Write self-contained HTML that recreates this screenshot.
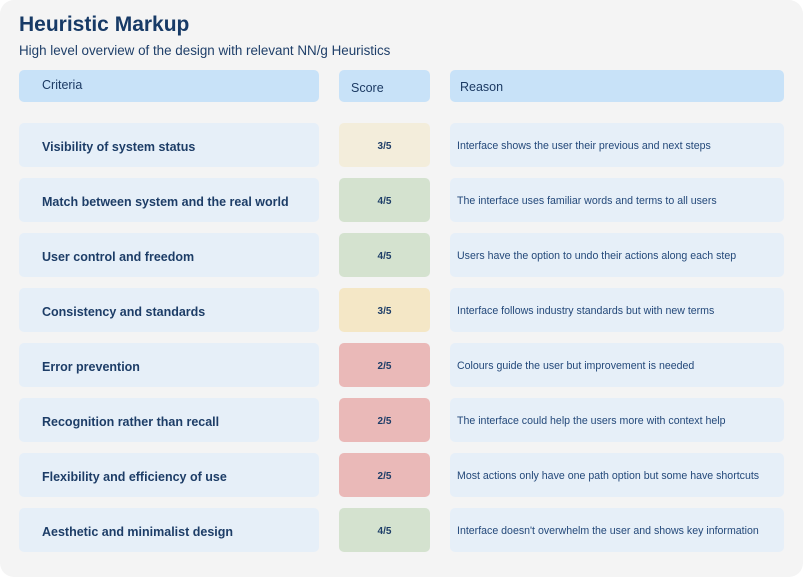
<!DOCTYPE html>
<html><head><meta charset="utf-8"><style>
*{margin:0;padding:0;box-sizing:border-box}
body{width:803px;height:577px;background:#fff;font-family:"Liberation Sans",sans-serif;color:#1c3a63;position:relative;overflow:hidden}
.card{position:absolute;left:0;top:0;width:803px;height:577px;background:#f4f4f4;border-radius:14px}
.b{position:absolute;border-radius:5px;display:flex;align-items:center}
h1{position:absolute;left:19px;top:13px;font-size:21px;font-weight:bold;color:#173a66}
.sub{position:absolute;left:19px;top:43px;font-size:13.4px;color:#1f3f69}
.h{background:#c8e2f8;font-size:12.5px;top:70px;height:32px}
.c{background:#e6eff8;font-size:12.5px;font-weight:bold;padding-left:23px;padding-top:3px;color:#1d3d67}
.s{font-size:10px;font-weight:bold;justify-content:center;padding-top:2px;color:#1d3d67}
.r{background:#e6eff8;font-size:10.6px;padding-left:7px;padding-top:2px;color:#24497a}
.y{background:#f3eddb}.yy{background:#f4e7c6}.g{background:#d4e2cf}.rd{background:#eab9b8}
</style></head><body><div class="card"></div>
<h1>Heuristic Markup</h1>
<div class="sub">High level overview of the design with relevant NN/g Heuristics</div>
<div class="b h" style="left:19px;width:300px;padding-left:23px;align-items:flex-start;padding-top:8px">Criteria</div>
<div class="b h" style="left:339px;width:91px;padding-left:12px;padding-top:3px">Score</div>
<div class="b h" style="left:450px;width:334px;padding-left:10px;padding-top:1px">Reason</div>
<div id="rows"></div>
<script>
const d=[["Visibility of system status","3/5","y","Interface shows the user their previous and next steps"],
["Match between system and the real world","4/5","g","The interface uses familiar words and terms to all users"],
["User control and freedom","4/5","g","Users have the option to undo their actions along each step"],
["Consistency and standards","3/5","yy","Interface follows industry standards but with new terms"],
["Error prevention","2/5","rd","Colours guide the user but improvement is needed"],
["Recognition rather than recall","2/5","rd","The interface could help the users more with context help"],
["Flexibility and efficiency of use","2/5","rd","Most actions only have one path option but some have shortcuts"],
["Aesthetic and minimalist design","4/5","g","Interface doesn't overwhelm the user and shows key information"]];
let h="";d.forEach((r,i)=>{const t=123+55*i;
h+=`<div class="b c" style="left:19px;top:${t}px;width:300px;height:44px">${r[0]}</div>
<div class="b s ${r[2]}" style="left:339px;top:${t}px;width:91px;height:44px">${r[1]}</div>
<div class="b r" style="left:450px;top:${t}px;width:334px;height:44px">${r[3]}</div>`});
document.getElementById("rows").innerHTML=h;
</script>
</body></html>
